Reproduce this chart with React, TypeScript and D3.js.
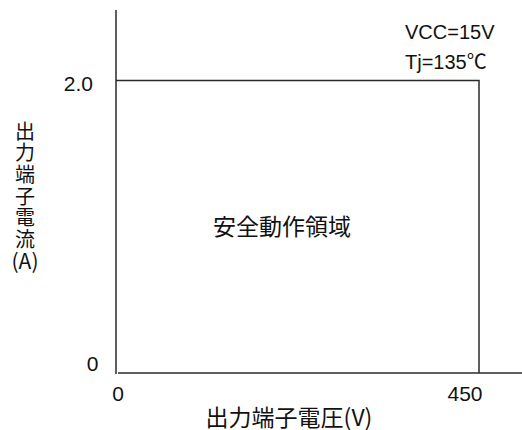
import React from "react";
import * as d3 from "d3";

const xTicks = [0, 450];
const yTicks = [0, 2.0];
const soaVoltage = [0, 450, 450];
const soaCurrent = [2.0, 2.0, 0];
const conditions = ["VCC=15V", "Tj=135℃"];
const yLabelChars = ["出", "力", "端", "子", "電", "流", "(A)"];
const xLabel = "出力端子電圧(V)";
const regionLabel = "安全動作領域";

const W = 522;
const H = 430;

export default function App() {
  const x = d3.scaleLinear().domain([0, 450]).range([116, 479]);
  const y = d3.scaleLinear().domain([0, 2.0]).range([373, 80.5]);
  const line = d3
    .line<number>()
    .x((_, i) => x(soaVoltage[i]))
    .y((d) => y(d));
  const font = "'Liberation Sans', Arial, 'Noto Sans CJK JP', sans-serif";
  const cjk = "'Noto Sans CJK JP', 'Liberation Sans', sans-serif";
  const ink = "#111";
  const stroke = "#2a2a2a";
  return (
    <svg
      width={W}
      height={H}
      style={{ position: "absolute", left: 0, top: 0, background: "#fff" }}
    >
      <rect x={0} y={0} width={W} height={H} fill="#fff" />
      {/* axes */}
      <line x1={x(0)} x2={x(0)} y1={10} y2={y(0) + 1} stroke={stroke} strokeWidth={1.5} />
      <line x1={x(0) + 2} x2={W} y1={y(0)} y2={y(0)} stroke={stroke} strokeWidth={1.5} />
      {/* SOA boundary */}
      <path d={line(soaCurrent) || ""} fill="none" stroke={stroke} strokeWidth={1.5} />
      {/* y ticks */}
      <text x={93} y={y(2.0) + 10} textAnchor="end" fontFamily={font} fontSize={21} fill={ink}>
        {yTicks[1].toFixed(1)}
      </text>
      <text x={92.5} y={y(0) - 2} textAnchor="middle" fontFamily={font} fontSize={21} fill={ink}>
        {String(yTicks[0])}
      </text>
      {/* x ticks */}
      <text x={x(xTicks[0]) + 2} y={401} textAnchor="middle" fontFamily={font} fontSize={21} fill={ink}>
        {String(xTicks[0])}
      </text>
      <text x={x(xTicks[1]) - 14} y={401} textAnchor="middle" fontFamily={font} fontSize={21} fill={ink}>
        {String(xTicks[1])}
      </text>
      {/* conditions */}
      {conditions.map((c, i) => (
        <text key={c} x={405} y={39 + i * 30} fontFamily={font} fontSize={20} fill={ink}>
          {c}
        </text>
      ))}
      {/* region label */}
      <text x={282} y={225} textAnchor="middle" dominantBaseline="central" fontFamily={cjk} fontSize={23} fill={ink}>
        {regionLabel}
      </text>
      {/* x label */}
      <text x={289} y={416} textAnchor="middle" dominantBaseline="central" fontFamily={cjk} fontSize={23} fill={ink}>
        {xLabel}
      </text>
      {/* y label */}
      {yLabelChars.map((c, i) => (
        <text
          key={i}
          x={25}
          y={130 + i * 21.7}
          textAnchor="middle"
          dominantBaseline="central"
          fontFamily={cjk}
          fontSize={c.length > 1 ? 21 : 20}
          fill={ink}
        >
          {c}
        </text>
      ))}
    </svg>
  );
}
